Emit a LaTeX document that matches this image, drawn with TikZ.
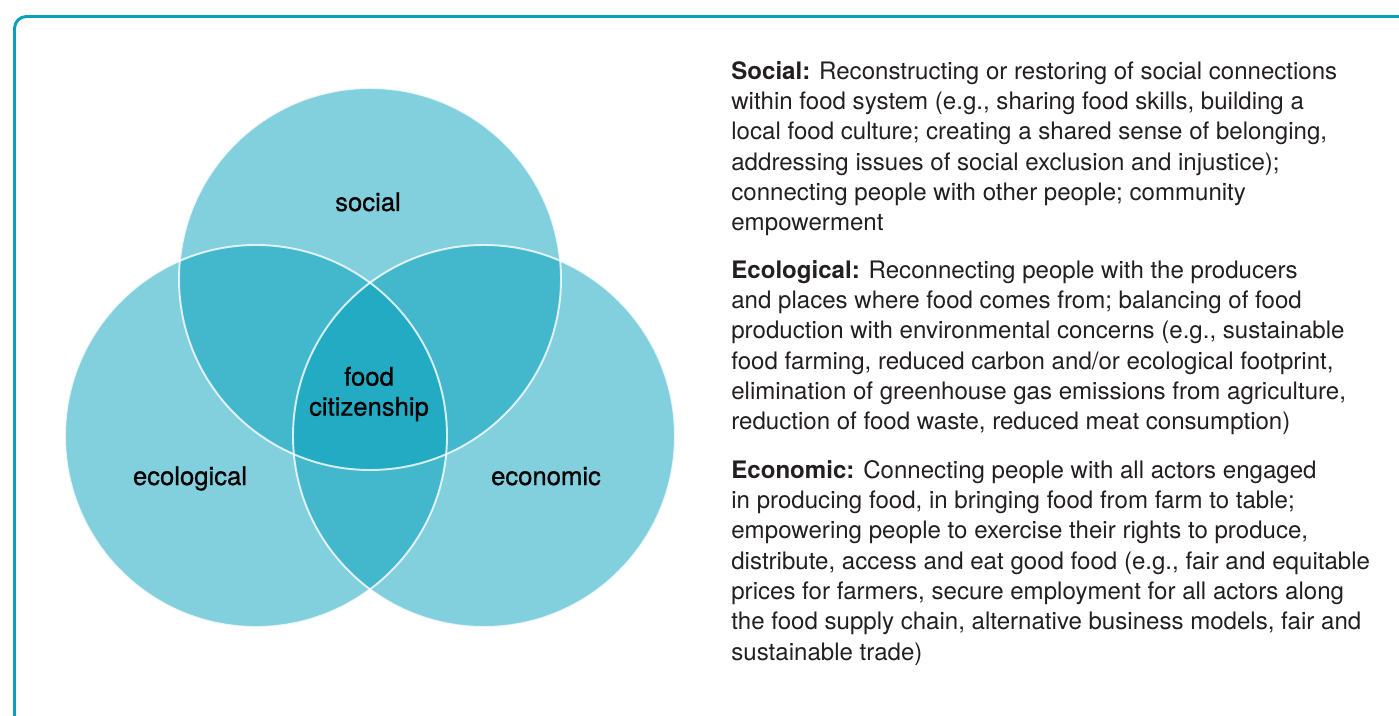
\documentclass[tikz,border=0pt]{standalone}
\usepackage{fontspec}
\setmainfont{TeX Gyre Heros}
\newfontfamily\labelfont[FakeBold=0.7]{TeX Gyre Heros}

\definecolor{venn}{RGB}{5,159,187}
\definecolor{frameline}{RGB}{10,160,189}
\definecolor{ink}{RGB}{35,31,32}

\tikzset{
  setfill/.style={fill=venn, fill opacity=0.5},
  setline/.style={draw=white, draw opacity=0.8, line width=1.1pt},
  setlabel/.style={font=\labelfont\fontsize{14.6}{17.1}\selectfont, text=black, align=center},
  note/.style={font=\fontsize{13.7}{17.25}\selectfont, text=ink, align=left,
    anchor=north west, inner sep=0pt}
}

\begin{document}
\begin{tikzpicture}[x=0.02cm, y=-0.02cm]
  \useasboundingbox (0,0) rectangle (1399,716);
  \begin{scope}
    \clip (0,0) rectangle (1399,716);
    \draw[frameline, line width=1.7pt, rounded corners=0.24cm] (14.5,16.5) rectangle (1440,760);
  \end{scope}

  % the three sets
  \fill[setfill] (370,279) circle (191);
  \fill[setfill] (256,436) circle (191);
  \fill[setfill] (484,436) circle (191);
  \draw[setline] (370,279) circle (191);
  \draw[setline] (256,436) circle (191);
  \draw[setline] (484,436) circle (191);

  \node[setlabel, anchor=base] (social) at (368,211) {social};
  \node[setlabel, anchor=base] (ecological) at (190,485) {ecological};
  \node[setlabel, anchor=base] (economic) at (546,485) {economic};
  \node[setlabel] (citizenship) at (369,394) {food\\citizenship};

  % descriptions
  \node[note] (socialtext) at (731,61) {\textbf{Social:} Reconstructing or restoring of social connections\\
    within food system (e.g., sharing food skills, building a\\
    local food culture; creating a shared sense of belonging,\\
    addressing issues of social exclusion and injustice);\\
    connecting people with other people; community\\
    empowerment};
  \node[note] (ecotext) at (731,260) {\textbf{Ecological:} Reconnecting people with the producers\\
    and places where food comes from; balancing of food\\
    production with environmental concerns (e.g., sustainable\\
    food farming, reduced carbon and/or ecological footprint,\\
    elimination of greenhouse gas emissions from agriculture,\\
    reduction of food waste, reduced meat consumption)};
  \node[note] (econtext) at (731,460) {\textbf{Economic:} Connecting people with all actors engaged\\
    in producing food, in bringing food from farm to table;\\
    empowering people to exercise their rights to produce,\\
    distribute, access and eat good food (e.g., fair and equitable\\
    prices for farmers, secure employment for all actors along\\
    the food supply chain, alternative business models, fair and\\
    sustainable trade)};
\end{tikzpicture}
\end{document}
